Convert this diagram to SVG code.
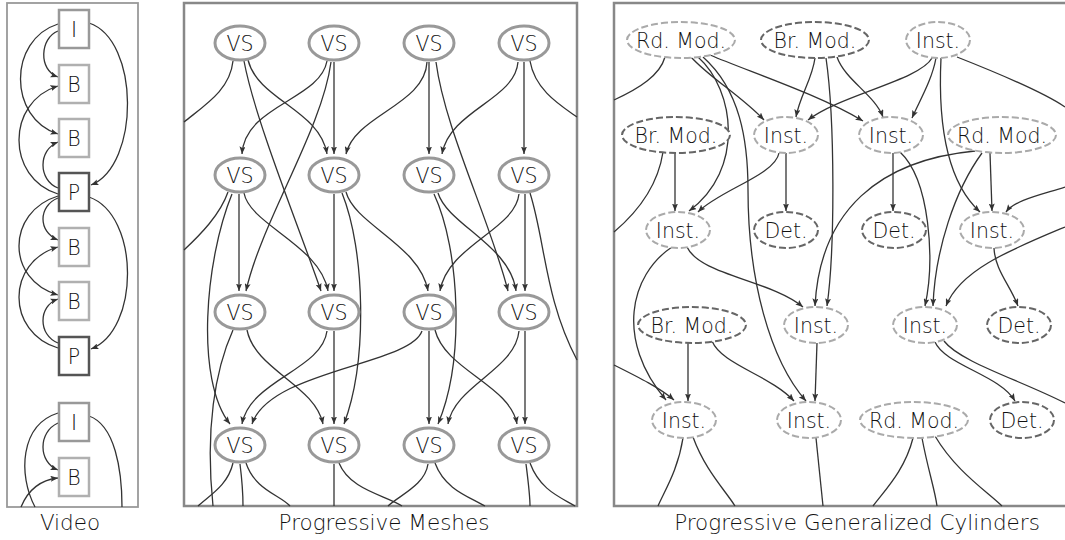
<svg xmlns="http://www.w3.org/2000/svg" width="1065" height="540" viewBox="0 0 1065 540">
<style>
.e{fill:none;stroke:#333;stroke-width:1.3}
.a{marker-end:url(#ah)}
.fr{fill:none;stroke:#888;stroke-width:2.5}
.frv{fill:none;stroke:#999;stroke-width:1.8}
.bi{fill:#fff;stroke:#999;stroke-width:2.5}
.bb{fill:#fff;stroke:#b0b0b0;stroke-width:2.5}
.bp{fill:#fff;stroke:#555;stroke-width:2.5}
.vs{fill:#fff;stroke:#999;stroke-width:3}
.lt{fill:#fff;stroke:#aaa;stroke-width:2;stroke-dasharray:7 3}
.dk{fill:#fff;stroke:#666;stroke-width:2;stroke-dasharray:7 3}
text{font-family:"DejaVu Sans",Verdana,sans-serif;font-weight:200;fill:#111}
.nl{font-size:20.5px;text-anchor:middle}
.pl{font-size:21.5px;text-anchor:middle}
</style>
<defs>
<marker id="ah" viewBox="0 0 10 8" refX="10" refY="4" markerWidth="7.5" markerHeight="6" markerUnits="userSpaceOnUse" orient="auto">
<path d="M0,0 L10,4 L0,8 L2,4 z" fill="#333"/>
</marker>
</defs>
<rect width="1065" height="540" fill="#fff"/>
<g id="frames">
<rect class="frv" x="7" y="3" width="131" height="504"/>
<rect class="fr" x="184" y="3" width="393" height="503"/>
<path class="fr" d="M1070,3 L614,3 L614,506 L1070,506"/>
</g>
<g id="connectors">
<!-- video -->
<path class="e a" d="M58,31 C40,38 38,70 58,77"/>
<path class="e a" d="M58,24 C8,40 8,118 58,134"/>
<path class="e a" d="M89,23 C140,40 140,165 91,185"/>
<path class="e a" d="M58,194 C6,178 6,102 58,86"/>
<path class="e a" d="M58,188 C38,180 38,150 58,142"/>
<path class="e a" d="M58,198 C38,206 38,232 58,240"/>
<path class="e a" d="M58,196 C6,212 6,280 58,295"/>
<path class="e a" d="M58,348 C6,332 6,262 58,247"/>
<path class="e a" d="M58,343 C38,335 38,306 58,299"/>
<path class="e a" d="M89,197 C140,215 140,330 91,349"/>
<path class="e a" d="M58,423 C38,432 38,462 58,470"/>
<path class="e" d="M58,413 C20,425 18,475 35,507"/>
<path class="e a" d="M21,507 C28,490 40,480 58,478"/>
<path class="e" d="M89,416 C115,425 122,470 122,507"/>
<!-- meshes row1 -->
<path class="e" d="M233,61 C230,90 205,105 184,122"/>
<path class="e a" d="M244,61 C255,120 300,230 321,291"/>
<path class="e a" d="M248,60 C258,100 320,110 327,154"/>
<path class="e a" d="M327,61 C320,100 245,105 242,154"/>
<path class="e a" d="M331,62 C322,130 262,220 246,291"/>
<path class="e a" d="M334,62 L334,154"/>
<path class="e a" d="M427,62 C425,105 355,115 346,154"/>
<path class="e a" d="M429,62 L429,154"/>
<path class="e a" d="M436,62 C445,130 490,220 508,291"/>
<path class="e a" d="M518,62 C515,100 450,110 442,154"/>
<path class="e a" d="M524,62 L524,154"/>
<path class="e" d="M530,61 C535,90 560,105 577,117"/>
<!-- meshes row2 -->
<path class="e" d="M228,192 C220,215 200,235 184,250"/>
<path class="e a" d="M232,194 C205,260 195,380 230,424"/>
<path class="e a" d="M239,194 L239,291"/>
<path class="e a" d="M244,193 C250,225 320,245 328,291"/>
<path class="e a" d="M334,194 L334,291"/>
<path class="e a" d="M342,193 C365,250 368,360 344,424"/>
<path class="e a" d="M346,192 C355,225 420,245 428,291"/>
<path class="e a" d="M434,194 C460,250 465,360 438,424"/>
<path class="e a" d="M438,193 C448,225 510,245 516,291"/>
<path class="e a" d="M519,194 C515,230 448,245 440,291"/>
<path class="e a" d="M525,194 L525,291"/>
<path class="e" d="M530,193 C545,240 545,300 577,360"/>
<!-- meshes row3 -->
<path class="e" d="M233,330 C215,370 205,430 213,506"/>
<path class="e a" d="M247,330 C255,370 315,385 323,424"/>
<path class="e a" d="M327,331 C322,370 250,380 242,424"/>
<path class="e a" d="M334,331 L334,424"/>
<path class="e a" d="M422,331 C410,365 270,370 252,424"/>
<path class="e a" d="M429,331 L429,424"/>
<path class="e a" d="M435,330 C445,370 510,385 517,424"/>
<path class="e a" d="M519,331 C515,370 455,385 448,424"/>
<path class="e a" d="M525,331 L525,424"/>
<!-- meshes row4 -->
<path class="e" d="M233,463 C228,485 210,495 198,506"/>
<path class="e" d="M240,464 C242,480 243,495 243,506"/>
<path class="e" d="M246,463 C255,490 280,495 290,506"/>
<path class="e" d="M334,464 L334,506"/>
<path class="e" d="M339,463 C350,490 385,495 402,506"/>
<path class="e" d="M428,464 C425,485 400,495 388,506"/>
<path class="e" d="M435,463 C445,490 470,497 485,506"/>
<path class="e" d="M526,464 C528,480 530,495 530,506"/>
<path class="e" d="M530,463 C540,490 560,497 575,506"/>
<!-- cylinders -->
<path class="e" d="M665,57 C660,75 640,88 614,100"/>
<path class="e a" d="M691,57 C710,78 740,95 764,120"/>
<path class="e a" d="M698,57 C735,90 745,170 689,211"/>
<path class="e a" d="M703,57 C740,90 748,140 748,190 C748,280 770,360 806,401"/>
<path class="e a" d="M710,55 C750,72 820,95 863,121"/>
<path class="e a" d="M815,58 C812,80 800,95 796,117"/>
<path class="e a" d="M826,58 C835,120 835,250 827,306"/>
<path class="e a" d="M837,57 C845,80 875,95 883,117"/>
<path class="e a" d="M932,58 C920,80 840,95 808,120"/>
<path class="e a" d="M936,58 C932,80 920,100 912,118"/>
<path class="e a" d="M941,58 C938,120 945,180 980,212"/>
<path class="e" d="M957,57 C990,70 1040,90 1065,107"/>
<path class="e a" d="M1065,187 C1040,195 1015,200 1006,212"/>
<path class="e" d="M663,152 C658,185 640,210 614,232"/>
<path class="e a" d="M675,153 L675,211"/>
<path class="e a" d="M779,153 C775,175 720,190 698,212"/>
<path class="e a" d="M786,153 L786,211"/>
<path class="e a" d="M893,153 L893,211"/>
<path class="e a" d="M900,152 C930,180 935,260 925,306"/>
<path class="e a" d="M975,151 C880,160 820,210 815,306"/>
<path class="e a" d="M982,153 C955,190 935,250 933,306"/>
<path class="e a" d="M990,153 L992,211"/>
<path class="e a" d="M672,247 C630,275 615,340 666,400"/>
<path class="e a" d="M687,247 C700,275 770,280 803,307"/>
<path class="e a" d="M614,365 C640,378 660,388 674,400"/>
<path class="e a" d="M994,248 C995,270 1010,285 1018,306"/>
<path class="e a" d="M1065,227 C1010,250 960,270 946,306"/>
<path class="e a" d="M688,343 L688,401"/>
<path class="e a" d="M712,341 C722,365 770,375 794,401"/>
<path class="e a" d="M817,343 L815,401"/>
<path class="e a" d="M935,342 C945,365 1000,375 1015,401"/>
<path class="e" d="M944,341 C960,362 1020,380 1065,403"/>
<path class="e" d="M683,438 C678,470 665,490 658,506"/>
<path class="e" d="M693,437 C705,470 725,490 735,506"/>
<path class="e" d="M816,438 L823,506"/>
<path class="e" d="M913,438 C905,470 885,490 873,506"/>
<path class="e" d="M922,438 C928,470 935,490 937,506"/>
<path class="e" d="M935,436 C955,470 985,490 1002,506"/>
</g>
<!-- video nodes -->
<g id="v-i1"><rect class="bi" x="59" y="10" width="30" height="38"/><text class="nl" x="74" y="36.5">I</text></g>
<g id="v-b1"><rect class="bb" x="59" y="65" width="30" height="38"/><text class="nl" x="74" y="91.5">B</text></g>
<g id="v-b2"><rect class="bb" x="59" y="119" width="30" height="38"/><text class="nl" x="74" y="145.5">B</text></g>
<g id="v-p1"><rect class="bp" x="59" y="173" width="30" height="38"/><text class="nl" x="74" y="199.5">P</text></g>
<g id="v-b3"><rect class="bb" x="59" y="228" width="30" height="38"/><text class="nl" x="74" y="254.5">B</text></g>
<g id="v-b4"><rect class="bb" x="59" y="282" width="30" height="38"/><text class="nl" x="74" y="308.5">B</text></g>
<g id="v-p2"><rect class="bp" x="59" y="337" width="30" height="38"/><text class="nl" x="74" y="363.5">P</text></g>
<g id="v-i2"><rect class="bi" x="59" y="403" width="30" height="38"/><text class="nl" x="74" y="429.5">I</text></g>
<g id="v-b5"><rect class="bb" x="59" y="458" width="30" height="38"/><text class="nl" x="74" y="484.5">B</text></g>
<!-- mesh nodes -->
<g id="m11"><ellipse class="vs" cx="240" cy="43" rx="25" ry="17"/><text class="nl" x="240" y="50.5">VS</text></g>
<g id="m12"><ellipse class="vs" cx="334" cy="43" rx="25" ry="17"/><text class="nl" x="334" y="50.5">VS</text></g>
<g id="m13"><ellipse class="vs" cx="429" cy="43" rx="25" ry="17"/><text class="nl" x="429" y="50.5">VS</text></g>
<g id="m14"><ellipse class="vs" cx="524" cy="43" rx="25" ry="17"/><text class="nl" x="524" y="50.5">VS</text></g>
<g id="m21"><ellipse class="vs" cx="240" cy="175" rx="25" ry="17"/><text class="nl" x="240" y="182.5">VS</text></g>
<g id="m22"><ellipse class="vs" cx="334" cy="175" rx="25" ry="17"/><text class="nl" x="334" y="182.5">VS</text></g>
<g id="m23"><ellipse class="vs" cx="429" cy="175" rx="25" ry="17"/><text class="nl" x="429" y="182.5">VS</text></g>
<g id="m24"><ellipse class="vs" cx="524" cy="175" rx="25" ry="17"/><text class="nl" x="524" y="182.5">VS</text></g>
<g id="m31"><ellipse class="vs" cx="240" cy="312" rx="25" ry="17"/><text class="nl" x="240" y="319.5">VS</text></g>
<g id="m32"><ellipse class="vs" cx="334" cy="312" rx="25" ry="17"/><text class="nl" x="334" y="319.5">VS</text></g>
<g id="m33"><ellipse class="vs" cx="429" cy="312" rx="25" ry="17"/><text class="nl" x="429" y="319.5">VS</text></g>
<g id="m34"><ellipse class="vs" cx="524" cy="312" rx="25" ry="17"/><text class="nl" x="524" y="319.5">VS</text></g>
<g id="m41"><ellipse class="vs" cx="240" cy="445" rx="25" ry="17"/><text class="nl" x="240" y="452.5">VS</text></g>
<g id="m42"><ellipse class="vs" cx="334" cy="445" rx="25" ry="17"/><text class="nl" x="334" y="452.5">VS</text></g>
<g id="m43"><ellipse class="vs" cx="429" cy="445" rx="25" ry="17"/><text class="nl" x="429" y="452.5">VS</text></g>
<g id="m44"><ellipse class="vs" cx="524" cy="445" rx="25" ry="17"/><text class="nl" x="524" y="452.5">VS</text></g>
<!-- cylinder nodes -->
<g id="c-a"><ellipse class="lt" cx="681" cy="40" rx="54" ry="18"/><text class="nl" x="681" y="47.5">Rd. Mod.</text></g>
<g id="c-b"><ellipse class="dk" cx="815" cy="40" rx="54" ry="18"/><text class="nl" x="815" y="47.5">Br. Mod.</text></g>
<g id="c-c"><ellipse class="lt" cx="938" cy="40" rx="32" ry="18"/><text class="nl" x="938" y="47.5">Inst.</text></g>
<g id="c-d"><ellipse class="dk" cx="676" cy="135" rx="54" ry="18"/><text class="nl" x="676" y="142.5">Br. Mod.</text></g>
<g id="c-e"><ellipse class="lt" cx="786" cy="135" rx="32" ry="18"/><text class="nl" x="786" y="142.5">Inst.</text></g>
<g id="c-f"><ellipse class="lt" cx="891" cy="135" rx="32" ry="18"/><text class="nl" x="891" y="142.5">Inst.</text></g>
<g id="c-g"><ellipse class="lt" cx="1002" cy="135" rx="54" ry="18"/><text class="nl" x="1002" y="142.5">Rd. Mod.</text></g>
<g id="c-h"><ellipse class="lt" cx="678" cy="230" rx="32" ry="18"/><text class="nl" x="678" y="237.5">Inst.</text></g>
<g id="c-i"><ellipse class="dk" cx="786" cy="230" rx="32" ry="18"/><text class="nl" x="786" y="237.5">Det.</text></g>
<g id="c-j"><ellipse class="dk" cx="894" cy="230" rx="32" ry="18"/><text class="nl" x="894" y="237.5">Det.</text></g>
<g id="c-k"><ellipse class="lt" cx="992" cy="230" rx="32" ry="18"/><text class="nl" x="992" y="237.5">Inst.</text></g>
<g id="c-l"><ellipse class="dk" cx="692" cy="325" rx="54" ry="18"/><text class="nl" x="692" y="332.5">Br. Mod.</text></g>
<g id="c-m"><ellipse class="lt" cx="816" cy="325" rx="32" ry="18"/><text class="nl" x="816" y="332.5">Inst.</text></g>
<g id="c-n"><ellipse class="lt" cx="925" cy="325" rx="32" ry="18"/><text class="nl" x="925" y="332.5">Inst.</text></g>
<g id="c-o"><ellipse class="dk" cx="1019" cy="325" rx="32" ry="18"/><text class="nl" x="1019" y="332.5">Det.</text></g>
<g id="c-p"><ellipse class="lt" cx="684" cy="420" rx="32" ry="18"/><text class="nl" x="684" y="427.5">Inst.</text></g>
<g id="c-q"><ellipse class="lt" cx="809" cy="420" rx="32" ry="18"/><text class="nl" x="809" y="427.5">Inst.</text></g>
<g id="c-r"><ellipse class="lt" cx="914" cy="420" rx="54" ry="18"/><text class="nl" x="914" y="427.5">Rd. Mod.</text></g>
<g id="c-s"><ellipse class="dk" cx="1022" cy="420" rx="32" ry="18"/><text class="nl" x="1022" y="427.5">Det.</text></g>
<g id="labels">
<text class="pl" x="70" y="530">Video</text>
<text class="pl" x="384" y="530">Progressive Meshes</text>
<text class="pl" x="857" y="530">Progressive Generalized Cylinders</text>
</g>
</svg>
